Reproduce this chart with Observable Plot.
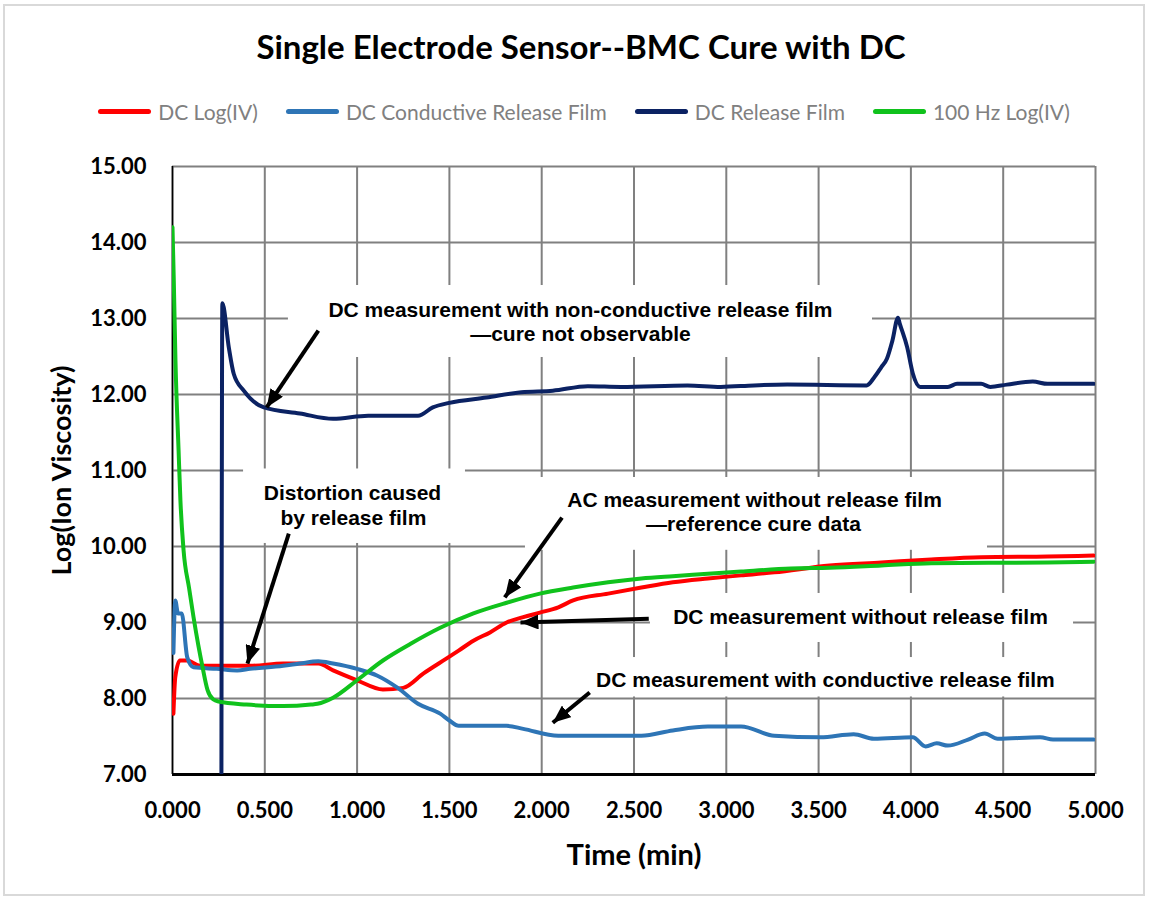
<!DOCTYPE html>
<html><head><meta charset="utf-8">
<script src="https://cdn.jsdelivr.net/npm/d3@7"></script>
<script src="https://cdn.jsdelivr.net/npm/@observablehq/plot@0.6"></script>
<style>
body{margin:0;background:#fff;}
#wrap{position:relative;width:1151px;height:903px;overflow:hidden;background:#fff;}
#frame{position:absolute;left:3px;top:4px;width:1142px;height:892px;border:2px solid #d9d9d9;box-sizing:border-box;}
#title{position:absolute;left:0;width:1162px;top:26px;text-align:center;font-family:Lato;font-weight:bold;font-size:33px;color:#000;}
#legend{position:absolute;left:0;width:1168px;top:99px;display:flex;justify-content:center;gap:28px;font-family:Lato;font-weight:400;font-size:21px;color:#808080;}
.item{display:flex;align-items:center;gap:7px;}
.sw{width:53px;height:5px;border-radius:3px;}
#chart{position:absolute;left:0;top:0;}
</style></head>
<body><div id="wrap"><div id="frame"></div><div id="chart"></div><div id="title"></div><div id="legend"></div></div>
<script>
const titleText = "Single Electrode Sensor--BMC Cure with DC";
const seriesNames = ["DC Log(IV)", "DC Conductive Release Film", "DC Release Film", "100 Hz Log(IV)"];
const seriesColors = ["#ff0000", "#2e75b6", "#0b2263", "#10c21c"];
const xTicks = [0, 0.5, 1, 1.5, 2, 2.5, 3, 3.5, 4, 4.5, 5];
const yTicks = [7, 8, 9, 10, 11, 12, 13, 14, 15];
const xLabel = "Time (min)";
const yLabel = "Log(Ion Viscosity)";

// DC Log(IV)
const redT = [0.005,0.015,0.04,0.08,0.15,0.42,0.6,0.79,0.87,1.0,1.14,1.25,1.36,1.5,1.55,1.63,1.72,1.81,1.9,1.99,2.09,2.17,2.36,2.54,2.71,2.9,3.08,3.26,3.56,3.84,4.11,4.38,4.74,4.99];
const redV = [7.8,8.28,8.5,8.5,8.43,8.43,8.46,8.46,8.37,8.24,8.12,8.14,8.33,8.55,8.63,8.76,8.87,9.0,9.07,9.13,9.2,9.29,9.38,9.46,9.53,9.58,9.62,9.66,9.75,9.79,9.83,9.86,9.87,9.88];
// DC Conductive Release Film
const blueT = [0.005,0.015,0.03,0.05,0.08,0.114,0.24,0.35,0.42,0.6,0.69,0.79,0.87,1.0,1.11,1.22,1.33,1.45,1.5,1.55,1.81,1.9,2.09,2.54,2.71,2.9,3.08,3.26,3.51,3.69,3.8,4.01,4.08,4.14,4.2,4.31,4.4,4.47,4.7,4.77,4.99];
const blueV = [8.6,9.29,9.12,9.12,8.54,8.41,8.39,8.37,8.39,8.43,8.46,8.49,8.46,8.39,8.3,8.14,7.93,7.8,7.71,7.64,7.64,7.6,7.51,7.51,7.58,7.63,7.63,7.51,7.49,7.53,7.47,7.49,7.37,7.41,7.38,7.46,7.54,7.47,7.49,7.46,7.46];
// DC Release Film
const navyT = [0.265,0.27,0.305,0.332,0.386,0.495,0.69,0.87,1.06,1.33,1.41,1.5,1.7,1.89,2.06,2.25,2.43,2.79,2.97,3.15,3.33,3.76,3.8,3.84,3.87,3.9,3.93,3.94,3.98,4.01,4.05,4.2,4.25,4.38,4.43,4.52,4.66,4.74,4.99];
const navyV = [7.0,13.2,12.62,12.27,12.05,11.83,11.75,11.68,11.72,11.72,11.83,11.89,11.96,12.03,12.05,12.11,12.1,12.12,12.1,12.12,12.13,12.12,12.22,12.36,12.47,12.71,13.01,12.93,12.62,12.28,12.1,12.1,12.14,12.14,12.1,12.13,12.17,12.14,12.14];
// 100 Hz Log(IV)
const greenT = [0,0.007,0.016,0.033,0.043,0.06,0.09,0.114,0.14,0.163,0.19,0.22,0.25,0.4,0.6,0.75,0.785,0.87,1.0,1.14,1.29,1.45,1.63,1.81,1.99,2.17,2.36,2.54,2.71,2.9,3.08,3.35,3.56,3.84,4.11,4.74,4.99];
const greenV = [14.2,13.5,12.45,11.26,10.6,9.95,9.45,9.07,8.7,8.41,8.11,7.99,7.96,7.92,7.9,7.92,7.93,8.01,8.24,8.5,8.72,8.93,9.12,9.26,9.38,9.46,9.53,9.58,9.61,9.64,9.67,9.71,9.72,9.75,9.78,9.79,9.8];

// Annotations (text boxes, arrows, labels)
const boxX1 = [0.628, 0.385, 1.912, 2.589, 2.183];
const boxX2 = [3.792, 1.587, 4.415, 4.881, 4.892];
const boxY1 = [12.487, 10.04, 9.95, 8.737, 8.02];
const boxY2 = [13.434, 11.02, 10.908, 9.382, 8.539];
const arrowTailX = [0.79, 0.63, 2.11, 2.58, 2.26];
const arrowTailY = [12.84, 10.17, 10.38, 9.05, 8.08];
const arrowHeadX = [0.51, 0.406, 1.80, 1.885, 2.06];
const arrowHeadY = [11.83, 8.46, 9.33, 9.0, 7.68];
const noteText = ["DC measurement with non-conductive release film", "\u2014cure not observable", "Distortion caused", "by release film", "AC measurement without release film", "\u2014reference cure data", "DC measurement without release film", "DC measurement with conductive release film"];
const noteX = [2.21, 2.21, 0.975, 0.98, 3.153, 3.147, 3.727, 3.537];
const noteY = [13.105, 12.79, 10.697, 10.368, 10.605, 10.289, 9.066, 8.237];

const seriesT = [redT, blueT, navyT, greenT];
const seriesV = [redV, blueV, navyV, greenV];
const boxes = boxX1.map((_, i) => ({x1: boxX1[i], x2: boxX2[i], y1: boxY1[i], y2: boxY2[i]}));
const arrows = arrowTailX.map((_, i) => ({x1: arrowTailX[i], y1: arrowTailY[i], x2: arrowHeadX[i], y2: arrowHeadY[i]}));
const notes = noteText.map((t, i) => ({text: t, x: noteX[i], y: noteY[i]}));

function triangleMarker(color, context) {
  const ns = "http://www.w3.org/2000/svg";
  const doc = (context && context.document) || document;
  const m = doc.createElementNS(ns, "marker");
  m.setAttribute("viewBox", "0 -5 10 10");
  m.setAttribute("markerWidth", 18);
  m.setAttribute("markerHeight", 15);
  m.setAttribute("markerUnits", "userSpaceOnUse");
  m.setAttribute("preserveAspectRatio", "none");
  m.setAttribute("refX", 10);
  m.setAttribute("refY", 0);
  m.setAttribute("orient", "auto");
  const p = doc.createElementNS(ns, "path");
  p.setAttribute("d", "M0,-5L10,0L0,5Z");
  p.setAttribute("fill", color);
  p.setAttribute("stroke", "none");
  m.appendChild(p);
  return m;
}

document.getElementById("title").textContent = titleText;
const legend = document.getElementById("legend");
seriesNames.forEach((n, i) => {
  const it = document.createElement("div"); it.className = "item";
  const sw = document.createElement("div"); sw.className = "sw"; sw.style.background = seriesColors[i];
  const tx = document.createElement("span"); tx.textContent = n;
  it.appendChild(sw); it.appendChild(tx); legend.appendChild(it);
});

const lineMarks = seriesT.map((T, s) =>
  Plot.line(T.map((t, i) => ({t, v: seriesV[s][i]})), {x: "t", y: "v", stroke: seriesColors[s], strokeWidth: 4, curve: "monotone-x", strokeLinejoin: "round", strokeLinecap: "round", clip: true})
);

const chart = Plot.plot({
  width: 1151, height: 903,
  marginLeft: 172, marginRight: 56, marginTop: 166, marginBottom: 129,
  x: {domain: [0, 5], ticks: xTicks, tickFormat: d3.format(".3f"), tickSize: 0, tickPadding: 28, label: null},
  y: {domain: [7, 15], ticks: yTicks, tickFormat: d3.format(".2f"), tickSize: 0, tickPadding: 26, label: null},
  style: {fontFamily: "Lato", fontSize: "22px", fontWeight: "bold", color: "#000", background: "transparent"},
  marks: [
    Plot.ruleX(xTicks, {stroke: "#808080", strokeWidth: 2}),
    Plot.ruleY(yTicks, {stroke: "#808080", strokeWidth: 2}),
    Plot.rect(boxes, {x1: "x1", x2: "x2", y1: "y1", y2: "y2", fill: "white"}),
    Plot.ruleX([0], {stroke: "black", strokeWidth: 1.5}),
    Plot.ruleY([7], {stroke: "black", strokeWidth: 3}),
    ...lineMarks,
    Plot.link(arrows, {x1: "x1", y1: "y1", x2: "x2", y2: "y2", stroke: "black", strokeWidth: 4, markerEnd: triangleMarker}),
    Plot.text(notes, {x: "x", y: "y", text: "text", fontFamily: "Liberation Sans, Arial, sans-serif", fontSize: 21, fontWeight: "bold", fill: "#000", textAnchor: "middle", lineAnchor: "middle"}),
    Plot.text([yLabel], {text: d => d, frameAnchor: "left", rotate: -90, dx: -110, fontSize: 27, fontWeight: "bold", fill: "#000", textAnchor: "middle", lineAnchor: "middle"}),
    Plot.text([xLabel], {text: d => d, frameAnchor: "bottom", dy: 81, fontSize: 29, fontWeight: "bold", fill: "#000", textAnchor: "middle", lineAnchor: "middle"})
  ]
});
document.getElementById("chart").appendChild(chart);
</script>
</body></html>
